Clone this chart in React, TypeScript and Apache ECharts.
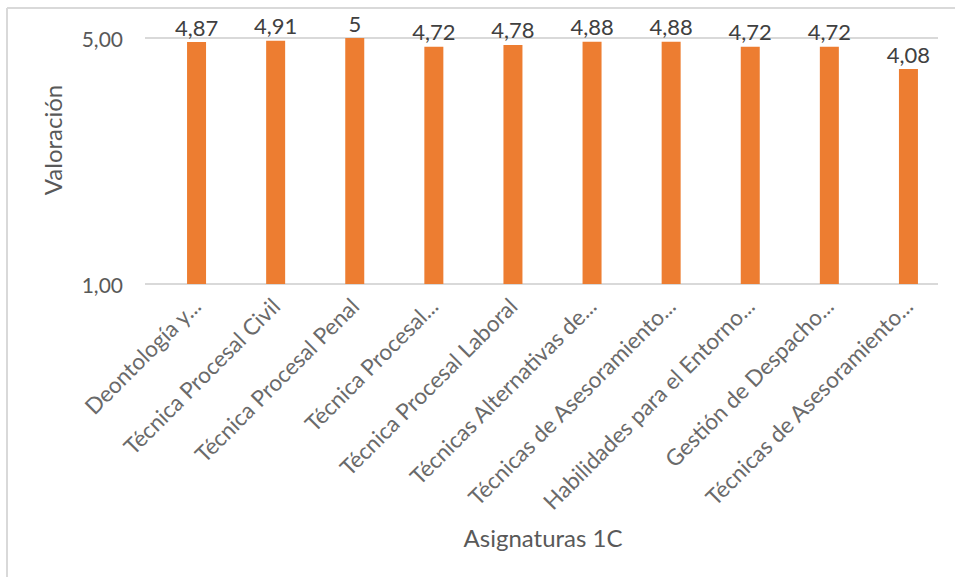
import React, { useEffect, useRef } from "react";
import * as echarts from "echarts";

const categories = [
  "Deontología y...",
  "Técnica Procesal Civil",
  "Técnica Procesal Penal",
  "Técnica Procesal...",
  "Técnica Procesal Laboral",
  "Técnicas Alternativas de...",
  "Técnicas de Asesoramiento...",
  "Habilidades para el Entorno...",
  "Gestión de Despacho...",
  "Técnicas de Asesoramiento... ",
];
const values = [4.87, 4.91, 5, 4.72, 4.78, 4.88, 4.88, 4.72, 4.72, 4.08];
const valueLabels = ["4,87", "4,91", "5", "4,72", "4,78", "4,88", "4,88", "4,72", "4,72", "4,08"];
const yMin = 1;
const yMax = 5;
const yLogBase = 5;
const xTitle = "Asignaturas 1C";
const yTitle = "Valoración";

const FONT = "Lato";

export default function App() {
  const ref = useRef<HTMLDivElement>(null);
  useEffect(() => {
    if (!ref.current) return;
    const chart = echarts.init(ref.current, undefined, { renderer: "svg" });
    chart.setOption({
      animation: false,
      backgroundColor: "#ffffff",
      textStyle: { fontFamily: FONT },
      grid: [
        // grid for the bars (category band slightly offset, as in the original)
        { left: 157, right: 7, top: 38, bottom: 294, containLabel: false },
        // grid for gridlines and y labels
        { left: 145, right: 17, top: 38, bottom: 294, containLabel: false },
      ],
      xAxis: [
        {
          type: "category",
          gridIndex: 0,
          data: categories,
          axisLine: { show: false },
          axisTick: { show: false },
          axisLabel: {
            rotate: 45,
            interval: 0,
            margin: 18,
            color: "#6a6a6a",
            fontSize: 22.5,
            fontFamily: FONT,
            formatter: (v: string) => v.trim(),
          },
        },
        {
          type: "category",
          gridIndex: 1,
          data: categories,
          show: false,
        },
      ],
      yAxis: [
        {
          type: "log",
          gridIndex: 0,
          logBase: yLogBase,
          min: yMin,
          max: yMax,
          show: false,
          splitLine: { show: false },
        },
        {
          type: "log",
          gridIndex: 1,
          logBase: yLogBase,
          min: yMin,
          max: yMax,
          axisLine: { show: false },
          axisTick: { show: false },
          splitLine: { show: true, lineStyle: { color: "#D9D9D9", width: 2 } },
          axisLabel: {
            color: "#595959",
            fontSize: 21,
            fontFamily: FONT,
            margin: 22,
            formatter: (v: number) => v.toFixed(2).replace(".", ","),
          },
        },
      ],
      series: [
        {
          type: "bar",
          xAxisIndex: 0,
          yAxisIndex: 0,
          data: values,
          barWidth: 19,
          z: 3,
          itemStyle: { color: "#ED7D31" },
          label: {
            show: true,
            position: "top",
            distance: 4,
            color: "#404040",
            fontSize: 22,
            fontFamily: FONT,
            formatter: (p: any) => valueLabels[p.dataIndex],
          },
        },
      ],
      graphic: [
        {
          type: "line",
          shape: { x1: 7, y1: 8, x2: 955, y2: 8 },
          style: { stroke: "#D9D9D9", lineWidth: 2 },
        },
        {
          type: "line",
          shape: { x1: 7, y1: 8, x2: 7, y2: 577 },
          style: { stroke: "#D9D9D9", lineWidth: 2 },
        },
        {
          type: "text",
          x: 543,
          y: 537,
          style: {
            text: xTitle,
            fill: "#595959",
            fontSize: 24,
            fontFamily: FONT,
            textAlign: "center",
            textVerticalAlign: "middle",
          },
        },
        {
          type: "text",
          x: 52,
          y: 140,
          rotation: Math.PI / 2,
          style: {
            text: yTitle,
            fill: "#595959",
            fontSize: 24,
            fontFamily: FONT,
            textAlign: "center",
            textVerticalAlign: "middle",
          },
        },
      ],
    });
    return () => chart.dispose();
  }, []);
  return (
    <div
      ref={ref}
      style={{ position: "fixed", left: 0, top: 0, width: 955, height: 578 }}
    />
  );
}
